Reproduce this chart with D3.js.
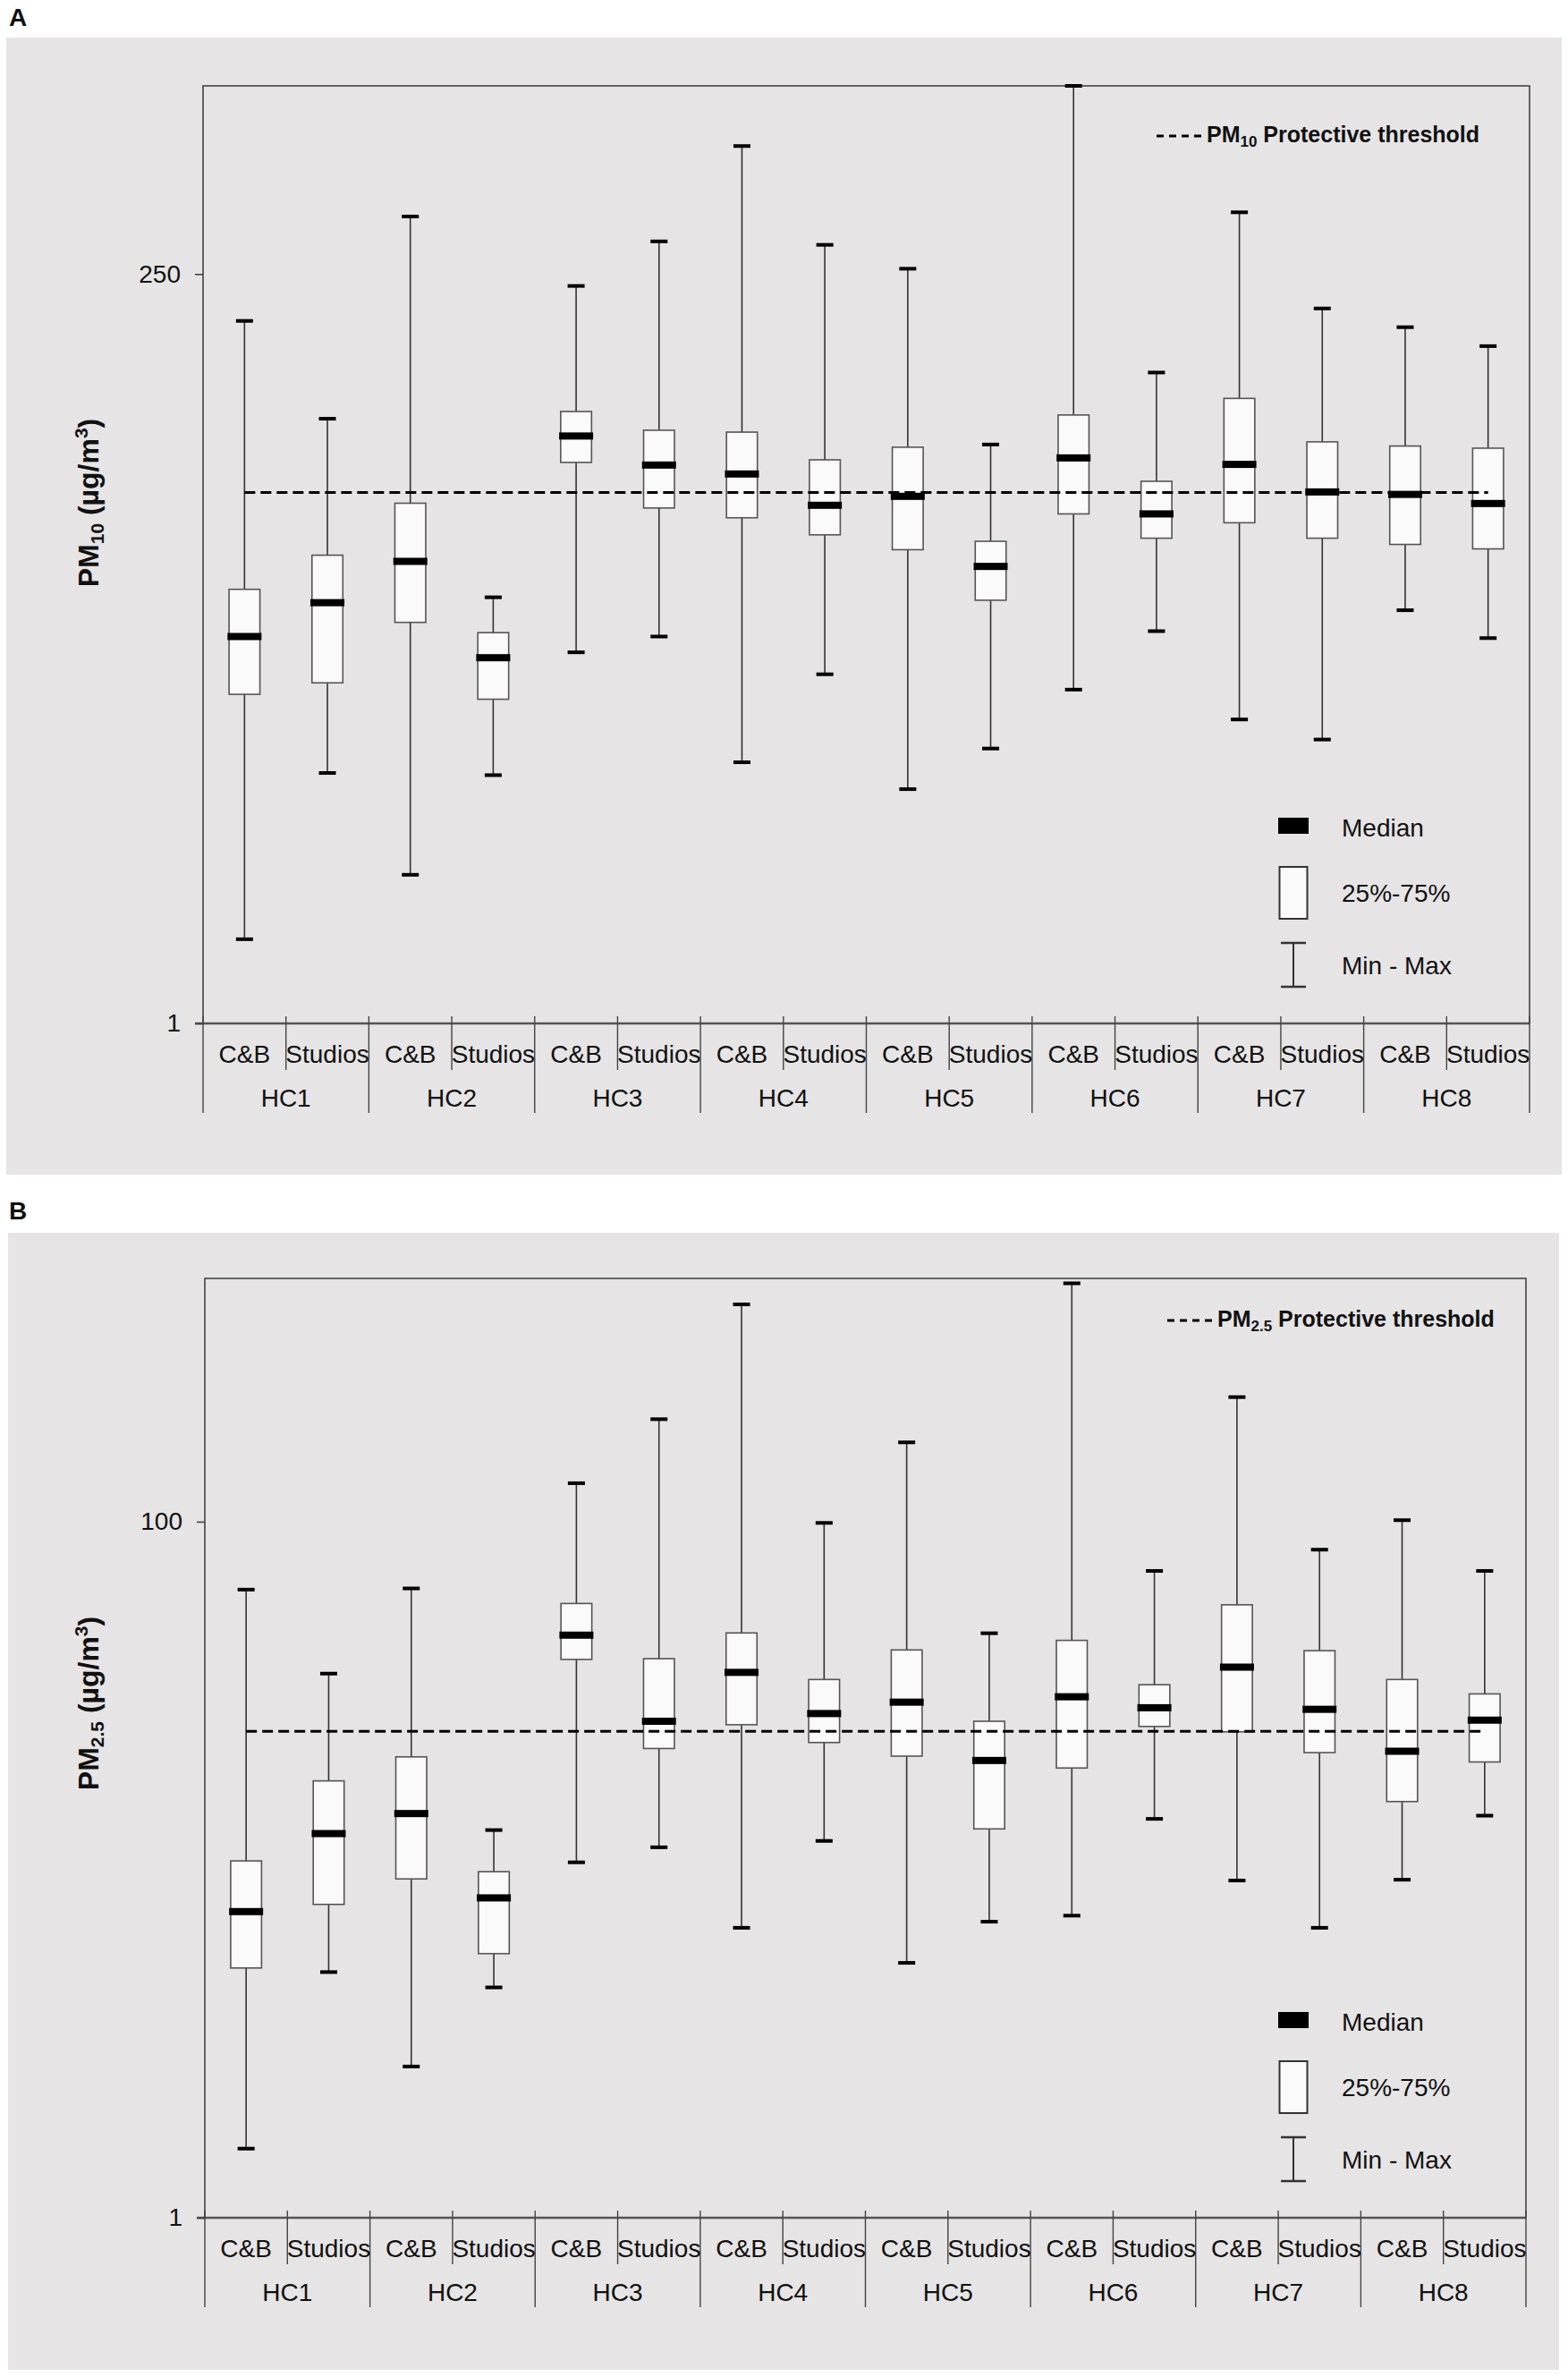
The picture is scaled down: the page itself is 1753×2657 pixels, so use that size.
<!DOCTYPE html>
<html>
<head>
<meta charset="utf-8">
<script src="https://cdn.jsdelivr.net/npm/d3@7"></script>
<style>
  body { margin: 0; background: #ffffff; }
  svg { display: block; }
  text { font-family: "Liberation Sans", Arial, sans-serif; }
</style>
</head>
<body>
<div id="chart"></div>
<script>
// categories
var groups = ["HC1", "HC2", "HC3", "HC4", "HC5", "HC6", "HC7", "HC8"];
var sites = ["C&B", "Studios"];

// PM10 (panel A), order: HC1 C&B, HC1 Studios, HC2 C&B, ...
var pm10Min    = [1.86, 6.33, 2.99, 6.23, 15.4, 17.3, 6.85, 13.1, 5.62, 7.58, 11.7, 18.0, 9.39, 8.10, 21.0, 17.1];
var pm10Q1     = [11.3, 12.3, 19.2, 10.9, 62.4, 44.6, 41.5, 36.6, 32.8, 22.6, 42.7, 35.7, 40.0, 35.7, 34.1, 33.0];
var pm10Median = [17.3, 22.2, 30.1, 14.8, 75.8, 61.2, 57.3, 45.5, 48.6, 29.0, 64.5, 42.7, 61.5, 50.2, 49.3, 46.1];
var pm10Q3     = [24.5, 31.5, 46.2, 17.8, 90.8, 79.1, 78.0, 63.6, 69.8, 34.9, 88.5, 54.3, 100, 72.6, 70.4, 69.3];
var pm10Max    = [177, 86.1, 382, 23.1, 229, 318, 642, 310, 260, 71.2, 1000, 121, 394, 194, 169, 147];
var pm10Ticks = [1, 250];
var pm10Threshold = 50;

// PM2.5 (panel B)
var pm25Min    = [1.58, 5.08, 2.72, 4.59, 10.5, 11.6, 6.81, 12.1, 5.40, 7.09, 7.38, 14.0, 9.31, 6.81, 9.36, 14.3];
var pm25Q1     = [5.22, 7.95, 9.41, 5.74, 40.2, 22.3, 26.1, 23.2, 21.2, 13.1, 19.6, 25.8, 24.9, 21.7, 15.7, 20.4];
var pm25Median = [7.58, 12.7, 14.5, 8.30, 47.2, 26.7, 36.9, 28.1, 30.3, 20.6, 31.4, 29.2, 38.2, 28.9, 21.9, 26.9];
var pm25Q3     = [10.6, 18.0, 21.1, 9.87, 58.2, 40.4, 47.9, 35.2, 42.8, 26.7, 45.6, 34.0, 57.7, 42.6, 35.2, 32.0];
var pm25Max    = [63.8, 36.6, 64.3, 13.0, 129, 197, 421, 99.2, 169, 47.8, 484, 72.2, 228, 83.1, 101, 72.2];
var pm25Ticks = [1, 100];
var pm25Threshold = 25;

var legendLabels = ["Median", "25%-75%", "Min - Max"];

var W = 1753, H = 2657;
var svg = d3.select("#chart").append("svg").attr("width", W).attr("height", H);

var lineCol = "#444";

function drawPanel(p) {
    var g = svg.append("g");

    // grey background + panel letter
    g.append("rect").attr("x", p.bg[0]).attr("y", p.bg[1])
        .attr("width", p.bg[2] - p.bg[0]).attr("height", p.bg[3] - p.bg[1])
        .attr("fill", "#e6e4e5");
    g.append("text").attr("x", 10).attr("y", p.letterY).text(p.letter)
        .attr("font-size", 28).attr("font-weight", "bold").attr("fill", "#111");

    var keys = [];
    groups.forEach(function(gr) { sites.forEach(function(s) { keys.push(gr + "|" + s); }); });

    var x = d3.scaleBand().domain(keys).range([p.left, p.right]).padding(0);
    var y = d3.scaleLog().domain(p.domain).range([p.bottom, p.top]);
    var bw = x.bandwidth();

    var rows = keys.map(function(k, i) {
        return { key: k, min: p.min[i], q1: p.q1[i], med: p.median[i], q3: p.q3[i], max: p.max[i] };
    });

    // plot frame
    g.append("rect").attr("x", p.left).attr("y", p.top)
        .attr("width", p.right - p.left).attr("height", p.bottom - p.top)
        .attr("fill", "none").attr("stroke", lineCol).attr("stroke-width", 1.6);
    g.append("line").attr("x1", p.left - 9).attr("x2", p.right)
        .attr("y1", p.bottom).attr("y2", p.bottom)
        .attr("stroke", "#555").attr("stroke-width", 2.5);

    // y axis
    var yAxis = d3.axisLeft(y).tickValues(p.ticks).tickSize(9).tickPadding(16)
        .tickFormat(d3.format("d"));
    var ya = g.append("g").attr("transform", "translate(" + p.left + ",0)").call(yAxis);
    ya.select(".domain").remove();
    ya.selectAll("line").attr("stroke", lineCol).attr("stroke-width", 1.6);
    ya.selectAll("text").attr("font-size", 28).attr("fill", "#111")
        .attr("font-family", "'Liberation Sans', Arial, sans-serif");

    // y title
    var t = g.append("text")
        .attr("transform", "translate(" + 110 + "," + p.titleY + ") rotate(-90)")
        .attr("text-anchor", "middle").attr("font-size", 32).attr("font-weight", "bold")
        .attr("fill", "#111");
    t.append("tspan").text("PM");
    t.append("tspan").text(p.sub).attr("font-size", 21).attr("dy", 6);
    t.append("tspan").text(" (µg/m").attr("dy", -6);
    t.append("tspan").text("3").attr("font-size", 21).attr("dy", -12);
    t.append("tspan").text(")").attr("dy", 12);

    // category dividers
    d3.range(keys.length + 1).forEach(function(i) {
        var xx = p.left + i * bw;
        g.append("line").attr("x1", xx).attr("x2", xx)
            .attr("y1", p.bottom - 8).attr("y2", p.bottom + (i % 2 === 0 ? 100 : 52))
            .attr("stroke", lineCol).attr("stroke-width", 1.4);
    });
    g.selectAll(".site").data(keys).enter().append("text")
        .attr("x", function(d) { return x(d) + bw / 2; })
        .attr("y", p.bottom + 44)
        .attr("text-anchor", "middle").attr("font-size", 28).attr("fill", "#111")
        .text(function(d) { return d.split("|")[1]; });
    g.selectAll(".grp").data(groups).enter().append("text")
        .attr("x", function(d) { return x(d + "|" + sites[0]) + bw; })
        .attr("y", p.bottom + 93)
        .attr("text-anchor", "middle").attr("font-size", 28).attr("fill", "#111")
        .text(function(d) { return d; });

    // boxes
    var boxW = 34.5, capW = 19, medW = 38;
    var b = g.selectAll(".box").data(rows).enter().append("g")
        .attr("transform", function(d) { return "translate(" + (x(d.key) + bw / 2) + ",0)"; });
    b.append("line").attr("x1", 0).attr("x2", 0)
        .attr("y1", function(d) { return y(d.min); })
        .attr("y2", function(d) { return y(d.max); })
        .attr("stroke", "#333").attr("stroke-width", 1.6);
    b.append("rect").attr("x", -boxW / 2).attr("width", boxW)
        .attr("y", function(d) { return y(d.q3); })
        .attr("height", function(d) { return y(d.q1) - y(d.q3); })
        .attr("fill", "#fafafa").attr("stroke", "#555").attr("stroke-width", 1.6);
    b.append("rect").attr("x", -medW / 2).attr("width", medW).attr("height", 8)
        .attr("y", function(d) { return y(d.med) - 4; }).attr("fill", "#000");
    b.append("rect").attr("x", -capW / 2).attr("width", capW).attr("height", 4)
        .attr("y", function(d) { return y(d.max) - 2; }).attr("fill", "#000");
    b.append("rect").attr("x", -capW / 2).attr("width", capW).attr("height", 4)
        .attr("y", function(d) { return y(d.min) - 2; }).attr("fill", "#000");

    // protective threshold
    g.append("line")
        .attr("x1", x(keys[0]) + bw / 2).attr("x2", x(keys[keys.length - 1]) + bw / 2)
        .attr("y1", y(p.threshold)).attr("y2", y(p.threshold))
        .attr("stroke", "#000").attr("stroke-width", 3).attr("stroke-dasharray", "12,6");

    // threshold legend
    g.append("line").attr("x1", p.thrLegX).attr("x2", p.thrLegX + 52)
        .attr("y1", p.thrLegY - 7).attr("y2", p.thrLegY - 7)
        .attr("stroke", "#000").attr("stroke-width", 3).attr("stroke-dasharray", "8,6");
    var lt = g.append("text").attr("x", p.thrLegX + 56).attr("y", p.thrLegY)
        .attr("font-size", 25).attr("font-weight", "bold").attr("fill", "#111");
    lt.append("tspan").text("PM");
    lt.append("tspan").text(p.sub).attr("font-size", 17).attr("dy", 5);
    lt.append("tspan").text(" Protective threshold").attr("dy", -5);

    // box legend
    var lx = 1446, ax = p.bottom;
    g.append("rect").attr("x", lx - 17).attr("y", ax - 230).attr("width", 34).attr("height", 18)
        .attr("fill", "#000");
    g.append("rect").attr("x", lx - 15.5).attr("y", ax - 175).attr("width", 31).attr("height", 58)
        .attr("fill", "#fafafa").attr("stroke", "#333").attr("stroke-width", 2);
    g.append("line").attr("x1", lx).attr("x2", lx).attr("y1", ax - 90).attr("y2", ax - 41)
        .attr("stroke", "#333").attr("stroke-width", 2);
    [ax - 90, ax - 41].forEach(function(yy) {
        g.append("line").attr("x1", lx - 14).attr("x2", lx + 14).attr("y1", yy).attr("y2", yy)
            .attr("stroke", "#333").attr("stroke-width", 2.5);
    });
    var ly = [ax - 219, ax - 146, ax - 65];
    legendLabels.forEach(function(l, i) {
        g.append("text").attr("x", 1500).attr("y", ly[i]).attr("dy", "0.35em")
            .attr("font-size", 28).attr("fill", "#111").text(l);
    });
}

drawPanel({
    letter: "A", letterY: 29, bg: [7, 42, 1746, 1313],
    left: 227, right: 1710, top: 96, bottom: 1144, domain: [1, 1000],
    ticks: pm10Ticks, threshold: pm10Threshold, sub: "10", titleY: 562,
    min: pm10Min, q1: pm10Q1, median: pm10Median, q3: pm10Q3, max: pm10Max,
    thrLegX: 1293, thrLegY: 159
});

drawPanel({
    letter: "B", letterY: 1363, bg: [9, 1378, 1743, 2649],
    left: 229, right: 1706, top: 1429, bottom: 2479, domain: [1, 500],
    ticks: pm25Ticks, threshold: pm25Threshold, sub: "2.5", titleY: 1904,
    min: pm25Min, q1: pm25Q1, median: pm25Median, q3: pm25Q3, max: pm25Max,
    thrLegX: 1305, thrLegY: 1483
});
</script>
</body>
</html>
